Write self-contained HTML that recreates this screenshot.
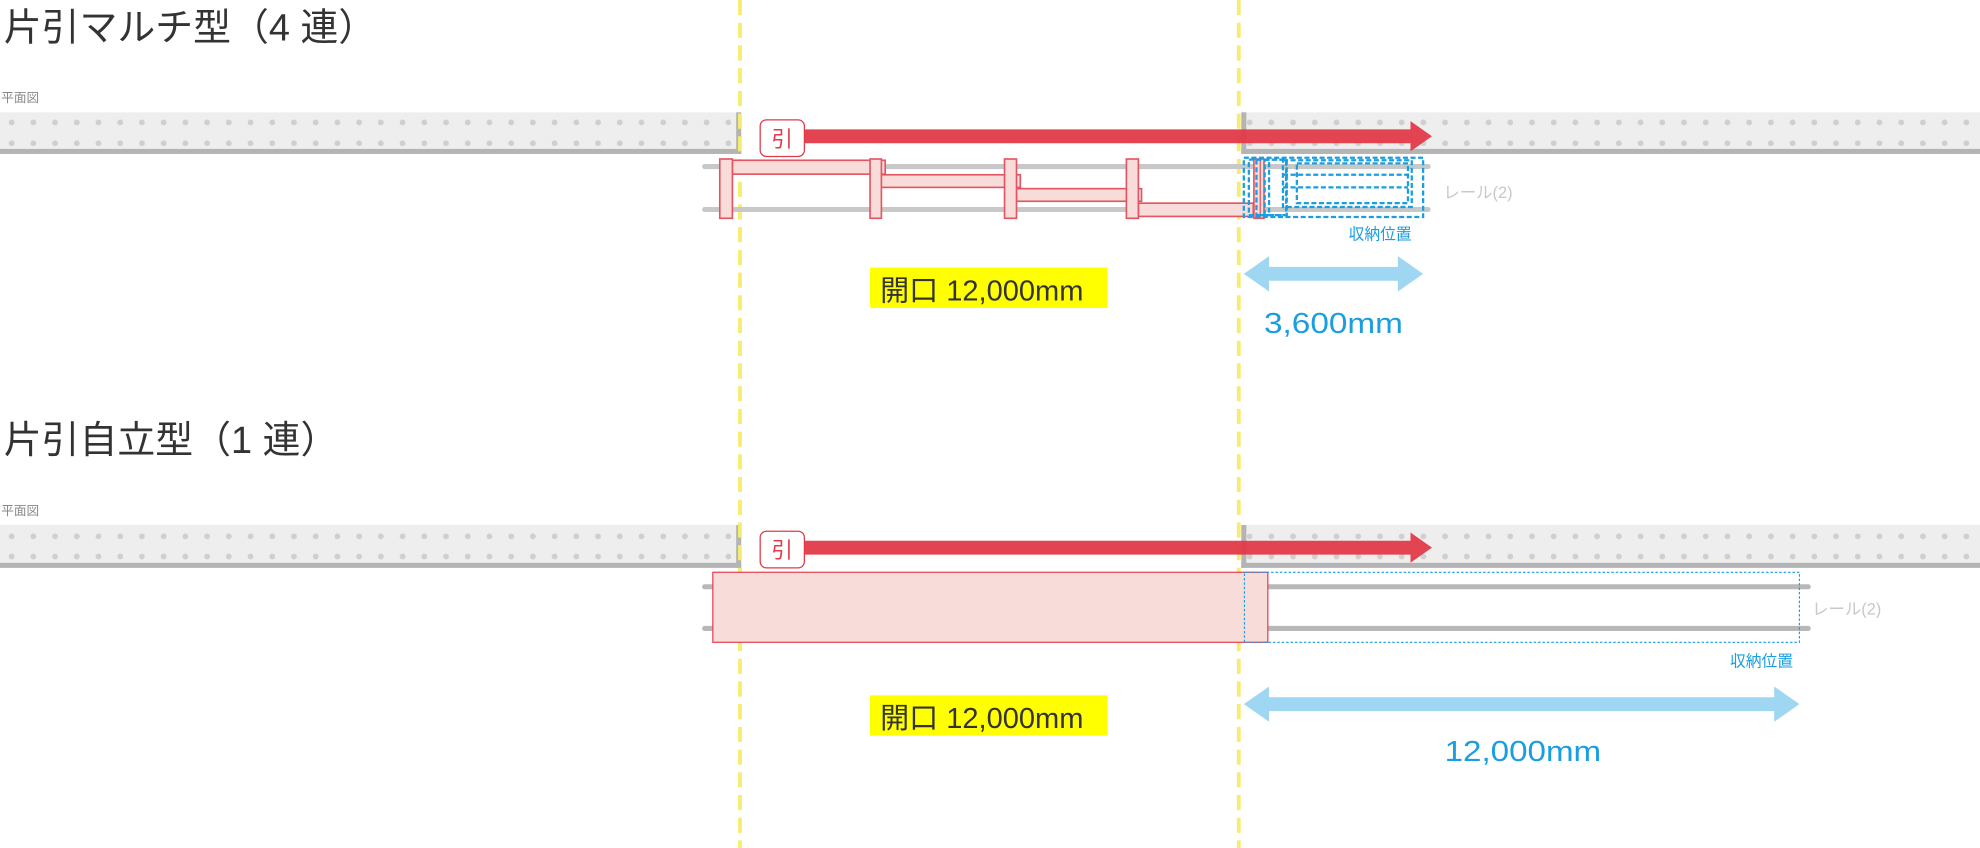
<!DOCTYPE html>
<html><head><meta charset="utf-8"><style>
html,body{margin:0;padding:0;background:#fff;}
svg{display:block;}
text{font-family:"Liberation Sans","Noto Sans CJK JP",sans-serif;}
</style></head><body>
<svg width="1980" height="848" viewBox="0 0 1568 672" preserveAspectRatio="none" xmlns="http://www.w3.org/2000/svg">
<defs>
<pattern id="d1" patternUnits="userSpaceOnUse" x="0" y="88" width="17.2" height="32">
<circle cx="9.2" cy="9" r="2.3" fill="#cfcfcf"/><circle cx="9.2" cy="25.5" r="2.3" fill="#cfcfcf"/></pattern>
<pattern id="d2" patternUnits="userSpaceOnUse" x="0" y="416" width="17.2" height="32">
<circle cx="9.2" cy="9" r="2.3" fill="#cfcfcf"/><circle cx="9.2" cy="25" r="2.3" fill="#cfcfcf"/></pattern>
</defs>

<text x="3" y="32" font-size="30" fill="#333">片引マルチ型（4 連）</text>
<text x="1" y="81" font-size="10" fill="#888">平面図</text>
<rect x="0" y="89" width="586" height="30" fill="#eeeeee"/>
<rect x="0" y="89" width="586" height="30" fill="url(#d1)"/>
<rect x="0" y="118" width="587" height="4" fill="#b4b4b4"/>
<rect x="583" y="89" width="4" height="33" fill="#b4b4b4"/>
<rect x="983" y="89" width="585" height="30" fill="#eeeeee"/>
<rect x="983" y="89" width="585" height="30" fill="url(#d1)"/>
<rect x="983" y="118" width="585" height="4" fill="#b4b4b4"/>
<rect x="983" y="89" width="4" height="33" fill="#b4b4b4"/>

<rect x="0" y="416" width="586" height="30" fill="#eeeeee"/>
<rect x="0" y="416" width="586" height="30" fill="url(#d2)"/>
<rect x="0" y="446" width="587" height="4" fill="#b4b4b4"/>
<rect x="583" y="416" width="4" height="34" fill="#b4b4b4"/>
<rect x="983" y="416" width="585" height="30" fill="#eeeeee"/>
<rect x="983" y="416" width="585" height="30" fill="url(#d2)"/>
<rect x="983" y="446" width="585" height="4" fill="#b4b4b4"/>
<rect x="983" y="416" width="4" height="34" fill="#b4b4b4"/>

<line x1="586" y1="0" x2="586" y2="672" stroke="#f7ec6e" stroke-width="3" stroke-dasharray="12,6"/>
<line x1="981" y1="0" x2="981" y2="672" stroke="#f7ec6e" stroke-width="3" stroke-dasharray="12,6"/>

<line x1="558" y1="132" x2="1131" y2="132" stroke="#c8c8c8" stroke-width="4" stroke-linecap="round"/>
<line x1="558" y1="166" x2="1131" y2="166" stroke="#c8c8c8" stroke-width="4" stroke-linecap="round"/>

<rect x="602" y="95" width="35" height="29" rx="5" fill="#fff" stroke="#e03a48" stroke-width="1"/>
<text x="619.5" y="116" font-size="17" fill="#e03a48" text-anchor="middle">引</text>
<polygon points="637,102.5 1117,102.5 1117,96 1134,108 1117,120 1117,113.5 637,113.5" fill="#e03a48" fill-opacity="0.95"/>

<g fill="#f8dcd9" stroke="#e35562" stroke-width="1.3">
<rect x="580" y="127" width="121" height="11"/>
<rect x="697" y="138.5" width="111" height="10"/>
<rect x="805" y="149.5" width="99" height="10"/>
<rect x="901.5" y="161" width="91" height="10.5"/>
<rect x="570" y="126" width="10" height="47"/>
<rect x="689" y="126" width="9" height="47"/>
<rect x="795.5" y="126" width="9.5" height="47"/>
<rect x="892" y="126" width="9.5" height="47"/>
<rect x="993" y="126" width="8" height="47"/>
</g>
<line x1="998" y1="126" x2="998" y2="173" stroke="#e35562" stroke-width="1"/>

<g fill="none" stroke="#1a9ee0" stroke-width="1.8" stroke-dasharray="4,2">
<rect x="985" y="125" width="142" height="47"/>
<rect x="989" y="126.5" width="16" height="44"/>
<rect x="995" y="126.5" width="24" height="44"/>
<rect x="1001.5" y="126.5" width="17" height="44"/>
<rect x="1016" y="127" width="102" height="37"/>
<rect x="1027" y="129.5" width="88" height="31.5"/>
<line x1="1016" y1="138.5" x2="1115" y2="138.5"/>
<line x1="1016" y1="148.5" x2="1115" y2="148.5"/>
</g>
<text x="1143" y="157" font-size="13" fill="#c8c8c8">レール(2)</text>
<text x="1068" y="190" font-size="12.5" fill="#1a9ee0">収納位置</text>

<rect x="689" y="212" width="188" height="32" fill="#ffff00"/>
<text x="697" y="238" font-size="23" fill="#333">開口 12,000mm</text>
<polygon points="985,217 1005,203 1005,211.5 1107,211.5 1107,203 1127,217 1107,231 1107,222.5 1005,222.5 1005,231" fill="#9fd6f2"/>
<text x="1001" y="264" font-size="23" fill="#1a9ee0" textLength="110" lengthAdjust="spacingAndGlyphs">3,600mm</text>

<text x="3" y="359" font-size="30" fill="#333">片引自立型（1 連）</text>
<text x="1" y="408" font-size="10" fill="#888">平面図</text>

<line x1="558" y1="465" x2="1432" y2="465" stroke="#b8b8b8" stroke-width="4" stroke-linecap="round"/>
<line x1="558" y1="498" x2="1432" y2="498" stroke="#b8b8b8" stroke-width="4" stroke-linecap="round"/>

<rect x="602" y="421" width="35" height="29" rx="5" fill="#fff" stroke="#e03a48" stroke-width="1"/>
<text x="619.5" y="442" font-size="17" fill="#e03a48" text-anchor="middle">引</text>
<polygon points="637,428.5 1117,428.5 1117,422 1134,434 1117,446 1117,439.5 637,439.5" fill="#e03a48" fill-opacity="0.95"/>

<rect x="564.5" y="453.5" width="439.5" height="55.5" fill="#f8dcd9" stroke="#e64553" stroke-width="1"/>
<rect x="985.5" y="453.5" width="439.5" height="55.5" fill="none" stroke="#1a9ee0" stroke-width="0.9" stroke-dasharray="2,1.5"/>
<text x="1435" y="487" font-size="13" fill="#c8c8c8">レール(2)</text>
<text x="1370" y="528" font-size="12.5" fill="#1a9ee0">収納位置</text>

<rect x="689" y="551" width="188" height="32" fill="#ffff00"/>
<text x="697" y="577" font-size="23" fill="#333">開口 12,000mm</text>
<polygon points="985,558 1005,544 1005,552.5 1405,552.5 1405,544 1425,558 1405,572 1405,563.5 1005,563.5 1005,572" fill="#9fd6f2"/>
<text x="1144" y="603" font-size="23" fill="#1a9ee0" textLength="124" lengthAdjust="spacingAndGlyphs">12,000mm</text>
</svg>
</body></html>
